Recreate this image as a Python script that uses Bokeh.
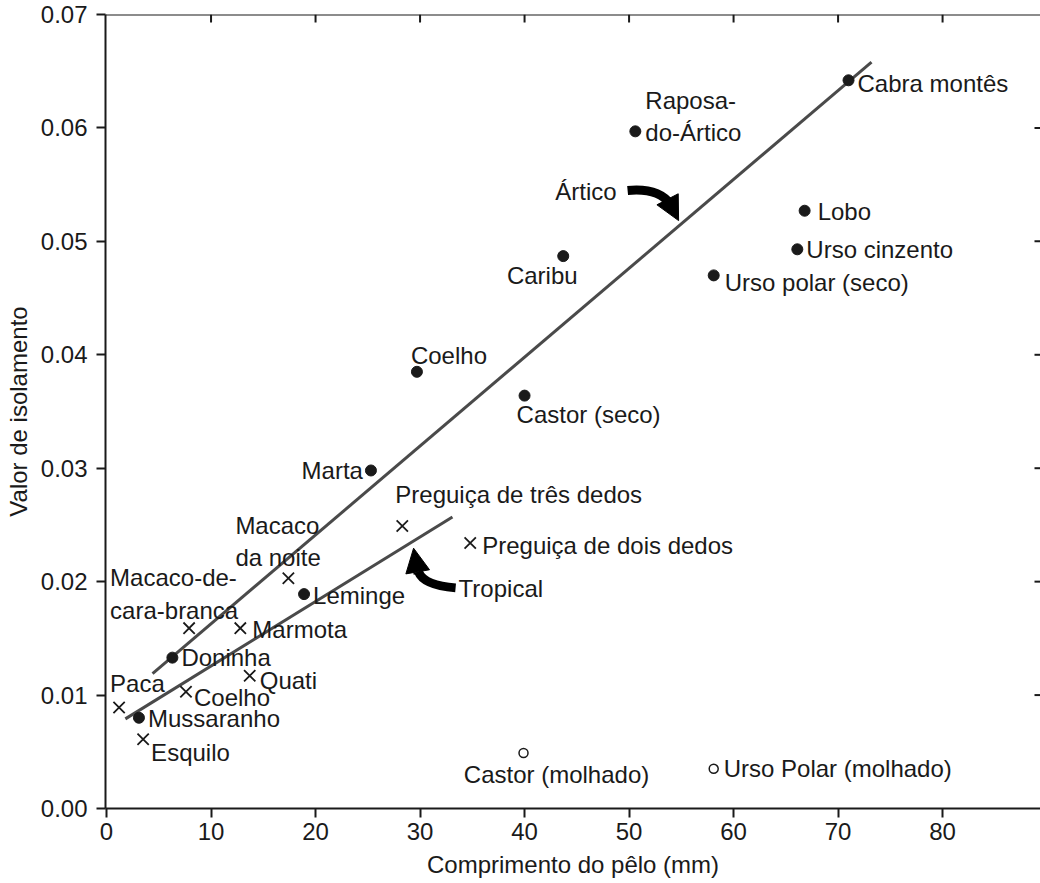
from bokeh.plotting import figure
from bokeh.models import (ColumnDataSource, Range1d, FixedTicker, Span,
                          NumeralTickFormatter, Arrow, NormalHead)
from bokeh.core.properties import value
from bokeh.embed import file_html
from bokeh.resources import INLINE

# ---------------- data ----------------
# Arctic / temperate mammals (filled circles)
arctic_names = ["Cabra montês", "Raposa-\ndo-Ártico", "Lobo", "Urso cinzento",
                "Urso polar (seco)", "Caribu", "Coelho", "Castor (seco)", "Marta",
                "Leminge", "Doninha", "Mussaranho"]
arctic_x = [71.0, 50.6, 66.8, 66.1, 58.1, 43.7, 29.7, 40.0, 25.3, 18.9, 6.3, 3.1]
arctic_y = [0.0642, 0.0597, 0.0527, 0.0493, 0.0470, 0.0487, 0.0385, 0.0364,
            0.0298, 0.0189, 0.0133, 0.0080]

# Tropical mammals (crosses)
tropical_names = ["Preguiça de três dedos", "Preguiça de dois dedos", "Macaco\nda noite",
                  "Macaco-de-\ncara-branca", "Marmota", "Quati", "Coelho", "Paca", "Esquilo"]
tropical_x = [28.3, 34.8, 17.4, 7.9, 12.8, 13.7, 7.6, 1.2, 3.5]
tropical_y = [0.0249, 0.0234, 0.0203, 0.0159, 0.0159, 0.0117, 0.0103, 0.0089, 0.0061]

# Wet fur (open circles)
wet_names = ["Castor (molhado)", "Urso Polar (molhado)"]
wet_x = [39.9, 58.1]
wet_y = [0.0049, 0.0035]

# Trend lines (end points)
arctic_line_x = [4.4, 73.2]
arctic_line_y = [0.0119, 0.0658]
tropical_line_x = [1.8, 33.1]
tropical_line_y = [0.0079, 0.0257]

# Annotation arrows: bezier (start, c0, c1, end) then head (start, tip)
artico_curve = dict(x0=[49.86], y0=[0.05449], cx0=[51.87], cy0=[0.05467],
                    cx1=[53.21], cy1=[0.05423], x1=[53.97], y1=[0.05327])
artico_head = dict(x_start=53.88, y_start=0.05336, x_end=54.74, y_end=0.05183)
tropical_curve = dict(x0=[33.40], y0=[0.01945], cx0=[31.20], cy0=[0.01963],
                      cx1=[30.14], cy1=[0.02015], x1=[29.86], y1=[0.02085])
tropical_head = dict(x_start=29.81, y_start=0.02068, x_end=29.38, y_end=0.02295)

x_ticks = [0, 10, 20, 30, 40, 50, 60, 70, 80]
y_ticks = [0.00, 0.01, 0.02, 0.03, 0.04, 0.05, 0.06, 0.07]
x_min, x_max = -0.1, 89.37
y_min, y_max = 0.0, 0.07

# ---------------- label layout (pixel offsets) ----------------
arctic_dx = [9, 10, 13, 9, 11, -21, -6, -8, -8, 9, 9, 9]
arctic_dy = [3, -15, 1, 0, 7, 19, -16, 19, 0, 1, 0, 1]
arctic_align = ["left", "left", "left", "left", "left", "center", "left", "left",
                "right", "left", "left", "left"]
tropical_dx = [-7, 12, -53, -79, 12, 10, 8, -9, 8]
tropical_dy = [-32, 2, -37, -34, 1, 5, 6, -24, 13]
tropical_align = ["left"] * 9
wet_dx = [33, 10]
wet_dy = [22, 0]
wet_align = ["center", "left"]

FONT = "Liberation Sans"
LABEL_SIZE = "24px"
INK = "#1a1a1a"
W, H = 1040, 883
FRAME_L, FRAME_T, FRAME_B = 105, 14, 808

p = figure(width=W, height=H, output_backend="svg", toolbar_location=None,
           x_range=Range1d(x_min, x_max), y_range=Range1d(y_min, y_max),
           min_border_left=FRAME_L, min_border_top=FRAME_T, min_border_right=0,
           min_border_bottom=H - FRAME_B)
p.background_fill_color = "white"
p.border_fill_color = "white"
p.outline_line_color = None
p.xgrid.visible = False
p.ygrid.visible = False

# axes
for ax in (p.xaxis[0], p.yaxis[0]):
    ax.axis_line_color = INK
    ax.axis_line_width = 2
    ax.major_tick_line_color = INK
    ax.major_tick_line_width = 2
    ax.major_tick_in = 0
    ax.major_tick_out = 9
    ax.minor_tick_line_color = None
    ax.major_label_text_font = FONT
    ax.major_label_text_font_size = "24px"
    ax.major_label_text_color = INK
    ax.axis_label_text_font = FONT
    ax.axis_label_text_font_size = "24px"
    ax.axis_label_text_font_style = "normal"
    ax.axis_label_text_color = INK

p.xaxis.ticker = FixedTicker(ticks=x_ticks)
p.yaxis.ticker = FixedTicker(ticks=y_ticks)
p.yaxis.formatter = NumeralTickFormatter(format="0.00")
p.xaxis.axis_label = "Comprimento do pêlo (mm)"
p.yaxis.axis_label = "Valor de isolamento"
p.xaxis.major_label_standoff = 5
p.xaxis.axis_label_standoff = 8
p.yaxis.major_label_standoff = 9
p.yaxis.axis_label_standoff = 6

# top spine and inward ticks on top / right
p.add_layout(Span(location=y_max, dimension="width", line_color=INK, line_width=2))
tick_len_y = 8 * (y_max - y_min) / (FRAME_B - FRAME_T)
tick_len_x = 6 * (x_max - x_min) / (W - FRAME_L)
top_ticks = [t for t in x_ticks if t > 0]
p.segment(x0=top_ticks, y0=[y_max] * len(top_ticks), x1=top_ticks,
          y1=[y_max - tick_len_y] * len(top_ticks), line_color=INK, line_width=2)
right_ticks = [t for t in y_ticks if 0 < t < y_max]
p.segment(x0=[x_max] * len(right_ticks), y0=right_ticks,
          x1=[x_max - tick_len_x] * len(right_ticks), y1=right_ticks,
          line_color=INK, line_width=2)

# trend lines
p.line(arctic_line_x, arctic_line_y, line_color="#4a4a4a", line_width=3)
p.line(tropical_line_x, tropical_line_y, line_color="#4a4a4a", line_width=3)

# points
src_a = ColumnDataSource(dict(x=arctic_x, y=arctic_y, t=arctic_names, dx=arctic_dx,
                              dy=arctic_dy, al=arctic_align))
src_t = ColumnDataSource(dict(x=tropical_x, y=tropical_y, t=tropical_names, dx=tropical_dx,
                              dy=tropical_dy, al=tropical_align))
src_w = ColumnDataSource(dict(x=wet_x, y=wet_y, t=wet_names, dx=wet_dx, dy=wet_dy,
                              al=wet_align))

p.scatter("x", "y", source=src_a, marker="circle", size=11, fill_color=INK, line_color=INK)
p.scatter("x", "y", source=src_t, marker="x", size=16, line_color=INK, line_width=1.8)
p.scatter("x", "y", source=src_w, marker="circle", size=9, fill_color="white",
          line_color=INK, line_width=1.5)

for s in (src_a, src_t, src_w):
    p.text("x", "y", text="t", source=s, x_offset="dx", y_offset="dy",
           text_align="al", text_baseline="middle", text_font=value(FONT),
           text_font_size=LABEL_SIZE, text_color=INK, text_line_height=1.2)

# annotation arrows
for curve, head, word, wdx, walign in ((artico_curve, artico_head, "Ártico", -11, "right"),
                                       (tropical_curve, tropical_head, "Tropical", 3, "left")):
    p.bezier(source=ColumnDataSource(curve), x0="x0", y0="y0", x1="x1", y1="y1",
             cx0="cx0", cy0="cy0", cx1="cx1", cy1="cy1", line_color="black", line_width=9)
    p.add_layout(Arrow(end=NormalHead(size=24, fill_color="black", line_color="black"),
                       line_color="black", line_width=9, **head))
    p.text(x=[curve["x0"][0]], y=[curve["y0"][0]], text=[word], x_offset=wdx, y_offset=1,
           text_align=walign, text_baseline="middle", text_font=value(FONT),
           text_font_size=LABEL_SIZE, text_color=INK)

open("out.html", "w").write(file_html(p, INLINE))
